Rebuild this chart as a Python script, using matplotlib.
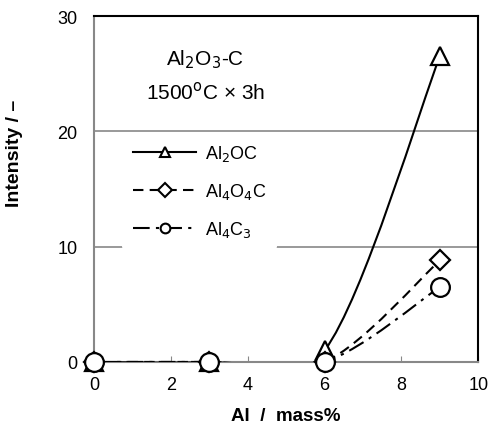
import numpy as np
import matplotlib
matplotlib.use("Agg")
import matplotlib.pyplot as plt
from matplotlib.path import Path
from matplotlib.patches import PathPatch
from matplotlib.lines import Line2D

plt.rcParams['font.family'] = ['Liberation Sans', 'DejaVu Sans']

# Data
al_mass = [0, 3, 6, 9]
al2oc = [0, 0, 1, 26.5]
al4o4c = [0, 0, 0, 8.8]
al4c3 = [0, 0, 0, 6.5]


def smooth_path(xs, ys):
    # Excel-style smoothed line: cubic Bezier through the points
    pts = np.column_stack([xs, ys]).astype(float)
    n = len(pts)
    verts = [pts[0]]
    codes = [Path.MOVETO]
    for i in range(n - 1):
        p0 = pts[max(i - 1, 0)]
        p1 = pts[i]
        p2 = pts[i + 1]
        p3 = pts[min(i + 2, n - 1)]
        c1 = p1 + (p2 - p0) / 6
        c2 = p2 - (p3 - p1) / 6
        verts += [c1, c2, p2]
        codes += [Path.CURVE4] * 3
    return Path(verts, codes)


fig = plt.figure(figsize=(4.88, 4.27), dpi=100)
ax = fig.add_axes([0.193, 0.150, 0.787, 0.810])

series = [
    (al2oc, '-', '^', 'Al$_2$OC'),
    (al4o4c, (0, (5, 3)), 'D', 'Al$_4$O$_4$C'),
    (al4c3, (0, (8, 3, 1.5, 3)), 'o', 'Al$_4$C$_3$'),
]
msize = {'^': 13, 'D': 10, 'o': 13.5}
handles = []
for ys, ls, mk, lab in series:
    patch = PathPatch(smooth_path(al_mass, ys), facecolor='none', edgecolor='black',
                      lw=1.5, linestyle=ls, zorder=3)
    ax.add_patch(patch)
    ax.plot(al_mass, ys, linestyle='none', marker=mk, ms=msize[mk], mfc='white',
            mec='black', mew=1.6, clip_on=False, zorder=4)
    handles.append(Line2D([], [], color='black', lw=1.5, linestyle=ls, marker=mk,
                          ms=7, mfc='white', mec='black', mew=1.5, label=lab))

ax.set_xlim(0, 10)
ax.set_ylim(0, 30)
ax.set_xticks([0, 2, 4, 6, 8, 10])
ax.set_yticks([0, 10, 20, 30])
ax.tick_params(axis='x', direction='in', length=4, color='#888888', labelsize=13, pad=10)
ax.tick_params(axis='y', length=0, labelsize=13, pad=12)
ax.grid(axis='y', color='#888888', lw=1.2)
ax.set_axisbelow(True)
for s in ['left', 'bottom']:
    ax.spines[s].set_color('#888888')
    ax.spines[s].set_linewidth(1.5)
for s in ['top', 'right']:
    ax.spines[s].set_color('black')
    ax.spines[s].set_linewidth(1.5)

ax.set_xlabel('Al  /  mass%', fontsize=13.5, fontweight='bold', labelpad=10)
ax.set_ylabel('Intensity / \u2013', fontsize=14, fontweight='bold')
ax.yaxis.set_label_coords(-0.185, 0.607)

ax.text(0.289, 0.876, 'Al$_2$O$_3$-C', transform=ax.transAxes, fontsize=15,
        ha='center', va='center')
ax.text(0.289, 0.783, '1500$^{\\mathrm{o}}$C \u00d7 3h', transform=ax.transAxes, fontsize=15,
        ha='center', va='center')

leg = ax.legend(handles=handles, loc='upper left', bbox_to_anchor=(0.05, 0.69),
                frameon=True, fontsize=13, handlelength=3.5, handletextpad=0.45,
                labelspacing=1.0, borderpad=0.6)
leg.get_frame().set_edgecolor('none')
leg.get_frame().set_facecolor('white')
leg.get_frame().set_alpha(1)

fig.savefig('out.png', dpi=100)
